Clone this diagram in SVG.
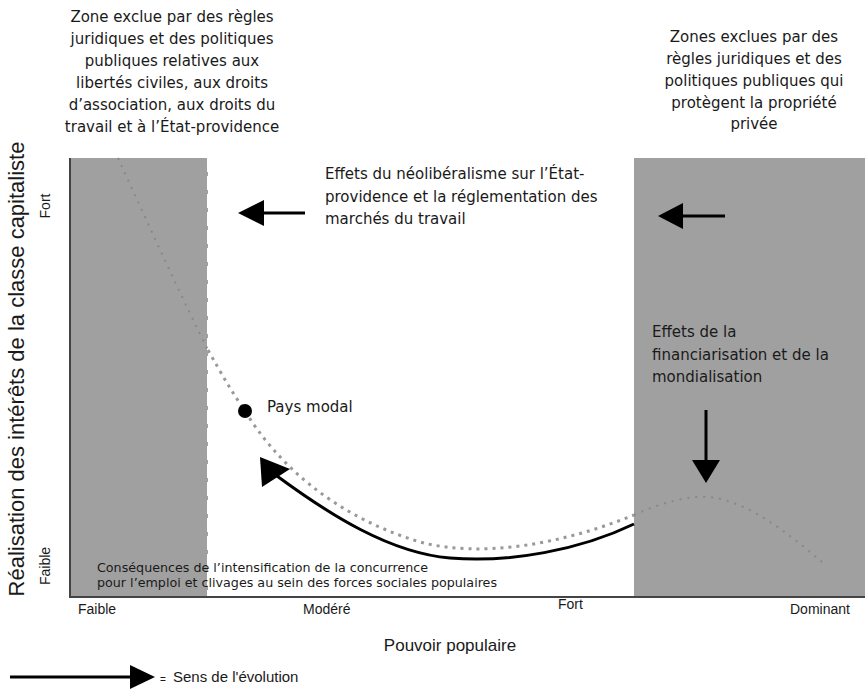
<svg xmlns="http://www.w3.org/2000/svg" width="865" height="689" viewBox="0 0 865 689">
<style>
.t{font-family:"DejaVu Sans",Verdana,sans-serif;font-size:15px;fill:#1a1a1a}
.c{text-anchor:middle}
.s{font-family:"Liberation Sans",Arial,sans-serif;font-size:14px;fill:#1a1a1a}
.zone{fill:#a0a0a0}
.dotw{fill:none;stroke:#999;stroke-width:3;stroke-dasharray:3 5}
.dotg{fill:none;stroke:#888;stroke-width:2;stroke-dasharray:2 6}
.ar{stroke:#000;stroke-width:3;fill:none}
</style>
<rect width="865" height="689" fill="#fff"/>
<g id="zone-left">
<rect class="zone" x="70" y="158" width="138" height="439"/>
<line x1="208" y1="158" x2="208" y2="597" stroke="#fff" stroke-width="2" stroke-dasharray="14 4"/>
</g>
<g id="zone-right">
<rect class="zone" x="634" y="158" width="231" height="439"/>
</g>
<g id="axes">
<line x1="70" y1="158" x2="70" y2="598" stroke="#444" stroke-width="2"/>
<line x1="69" y1="597" x2="865" y2="597" stroke="#444" stroke-width="2"/>
</g>
<g id="curve">
<path class="dotg" d="M118,158 C150,228 185,305 208,350"/>
<path class="dotw" d="M208,350 C222,375 232,392 245,411 C275,460 330,515 420,542 C480,558 560,545 634,515"/>
<path class="dotg" d="M634,515 C660,503 690,495 710,497 C750,502 790,535 822,562"/>
</g>
<g id="connectors">
<path class="ar" d="M634,524 C580,550 510,563 450,558 C390,553 330,515 277,476"/>
<polygon points="260,457 290,469 262,487" fill="#000"/>
<line class="ar" x1="305" y1="213" x2="255" y2="213"/>
<polygon points="238,213 264,200 264,226" fill="#000"/>
<line class="ar" x1="725" y1="216" x2="675" y2="216"/>
<polygon points="658,216 683,203 683,229" fill="#000"/>
<line class="ar" x1="706" y1="410" x2="706" y2="465"/>
<polygon points="706,483 692,460 720,460" fill="#000"/>
</g>
<g id="title-left">
<text class="t c" x="172" y="22">Zone exclue par des règles</text>
<text class="t c" x="172" y="44">juridiques et des politiques</text>
<text class="t c" x="172" y="66">publiques relatives aux</text>
<text class="t c" x="172" y="88">libertés civiles, aux droits</text>
<text class="t c" x="172" y="110">d’association, aux droits du</text>
<text class="t c" x="172" y="132">travail et à l’État-providence</text>
</g>
<g id="title-right">
<text class="t c" x="754" y="42">Zones exclues par des</text>
<text class="t c" x="754" y="64">règles juridiques et des</text>
<text class="t c" x="754" y="86">politiques publiques qui</text>
<text class="t c" x="754" y="108">protègent la propriété</text>
<text class="t c" x="754" y="129">privée</text>
</g>
<g id="neolib">
<text class="t" x="325" y="179">Effets du néolibéralisme sur l’État-</text>
<text class="t" x="325" y="202">providence et la réglementation des</text>
<text class="t" x="325" y="224">marchés du travail</text>
</g>
<g id="financ">
<text class="t" x="652" y="337">Effets de la</text>
<text class="t" x="652" y="360">financiarisation et de la</text>
<text class="t" x="652" y="382">mondialisation</text>
</g>
<g id="pays-modal">
<circle cx="245" cy="411" r="7" fill="#000"/>
<text class="t" x="267" y="412">Pays modal</text>
</g>
<g id="consequences">
<text class="t" style="font-size:12.7px" x="97" y="572">Conséquences de l’intensification de la concurrence</text>
<text class="t" style="font-size:12.7px" x="97" y="587">pour l’emploi et clivages au sein des forces sociales populaires</text>
</g>
<g id="y-axis-labels">
<text class="s" style="font-size:22px" text-anchor="middle" transform="translate(24,369) rotate(-90)">Réalisation des intérêts de la classe capitaliste</text>
<text class="s" text-anchor="middle" transform="translate(50,206) rotate(-90)">Fort</text>
<text class="s" text-anchor="middle" transform="translate(50,566) rotate(-90)">Faible</text>
</g>
<g id="x-axis-labels">
<text class="s" x="78" y="614">Faible</text>
<text class="s" x="303" y="614">Modéré</text>
<text class="s" x="558" y="609">Fort</text>
<text class="s" x="790" y="614">Dominant</text>
<text class="s" style="font-size:17px" x="450" y="651" text-anchor="middle">Pouvoir populaire</text>
</g>
<g id="legend">
<line x1="10" y1="677" x2="135" y2="677" stroke="#000" stroke-width="3"/>
<polygon points="155,677 130,665 130,689" fill="#000"/>
<text class="s" x="160" y="683" style="font-size:10px">=</text>
<text class="s" style="font-size:15px" x="173" y="682">Sens de l'évolution</text>
</g>
</svg>
